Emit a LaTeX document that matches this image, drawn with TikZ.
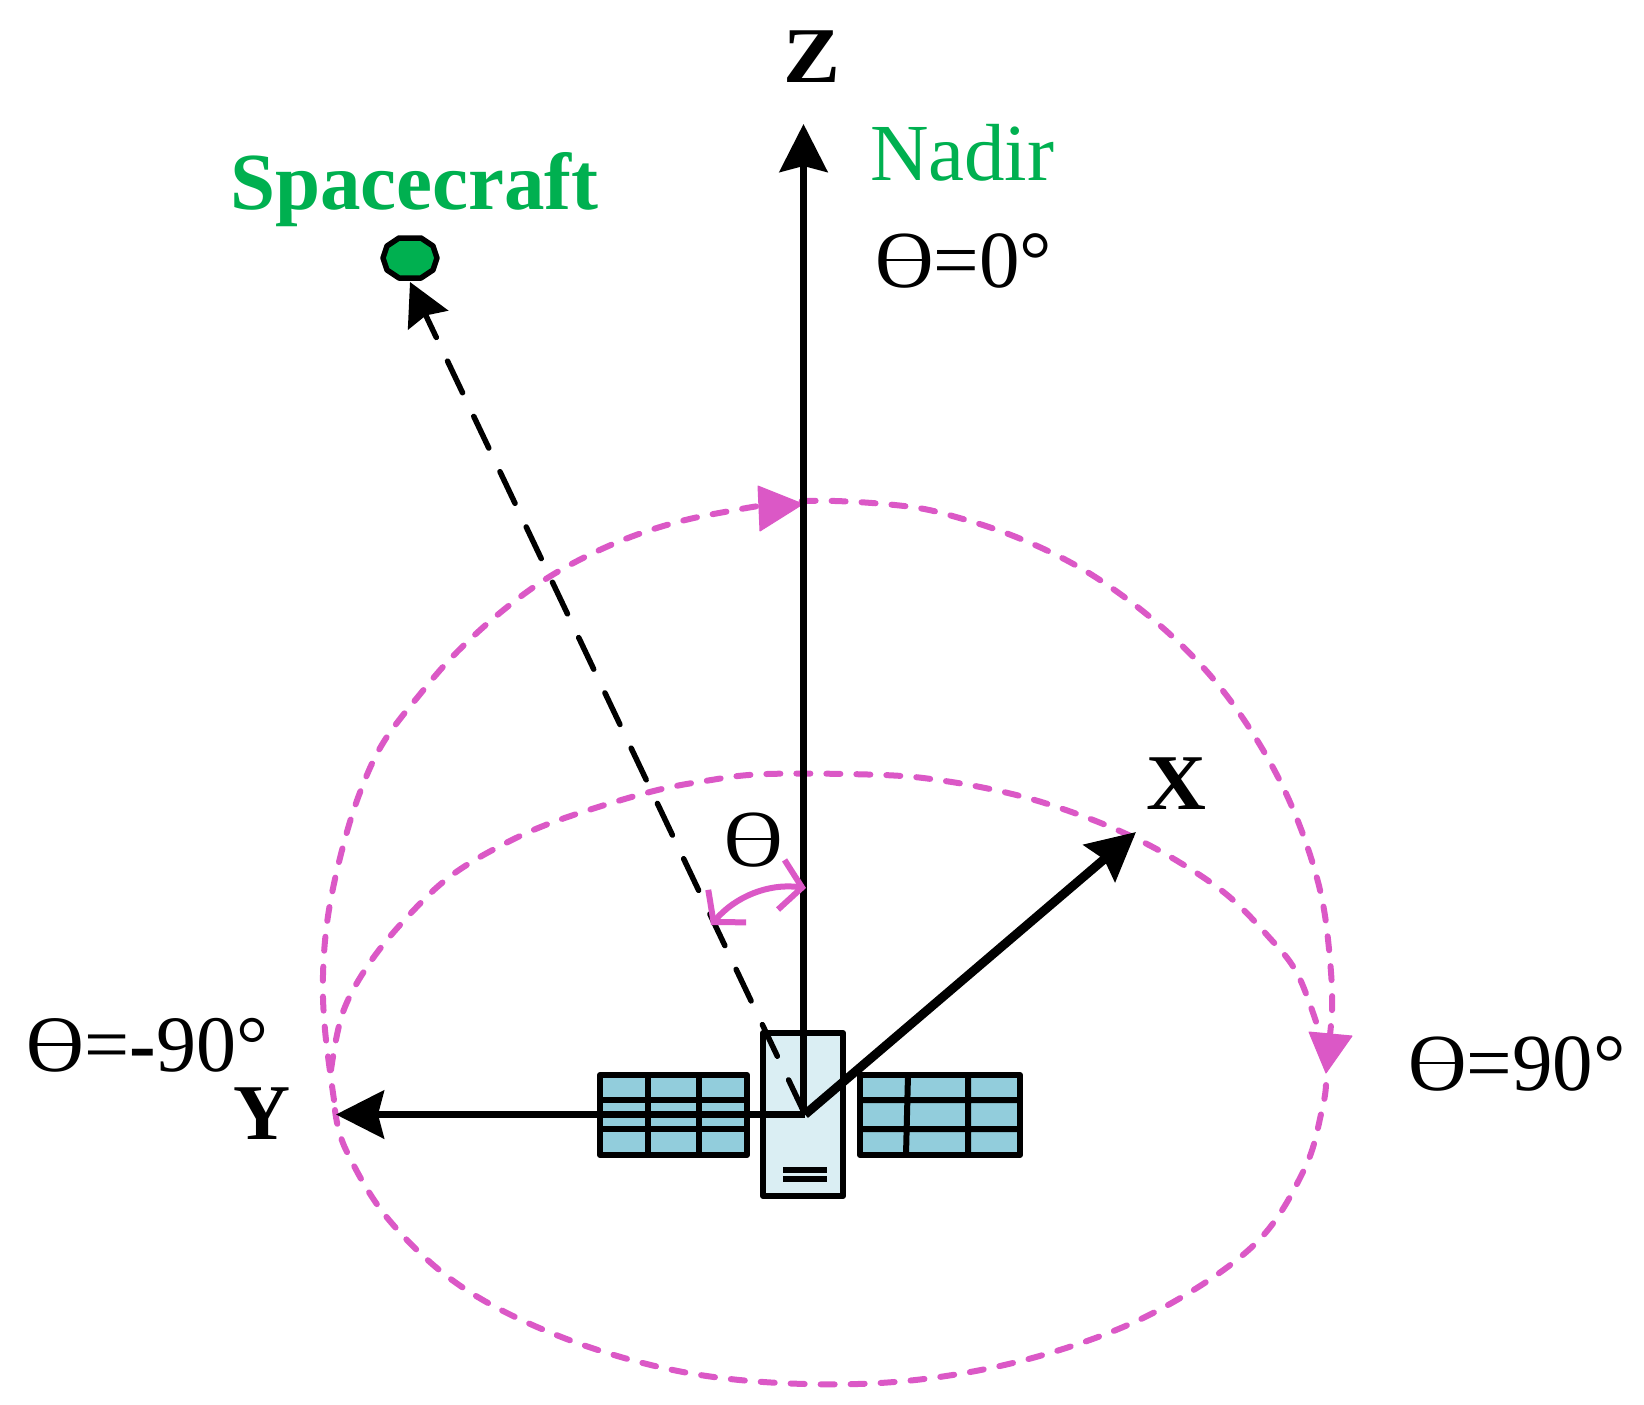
\documentclass[tikz,border=0pt]{standalone}
\usepackage{fontspec}
\setmainfont{Liberation Serif}
\usetikzlibrary{arrows.meta,shapes.geometric}
\definecolor{arcpink}{HTML}{DB58C6}
\definecolor{bodyblue}{HTML}{DAEEF3}
\definecolor{panelblue}{HTML}{92CDDC}
\definecolor{craftgreen}{HTML}{00B050}
\newcommand{\thetaglyph}{Θ\llap{\textcolor{white}{\rule[.19em]{.36em}{.29em}}\hspace{.18em}}\llap{\rule[.315em]{.58em}{.036em}\hspace{.07em}}}
\tikzset{
  lab/.style={inner sep=0pt,outer sep=0pt,anchor=base west,font=\fontsize{81}{90}\selectfont},
  axislab/.style={inner sep=0pt,outer sep=0pt,anchor=base west,font=\fontsize{79}{90}\selectfont\bfseries},
  arcline/.style={draw=arcpink,line width=6pt,line cap=round,dash pattern=on 14pt off 16pt},
  archead/.style={fill=arcpink,draw=arcpink,line width=1pt,line join=round},
  axisline/.style={draw=black,line width=6.5pt,-{Stealth[length=48pt,width=48pt,inset=6pt]}},
  hw/.style={draw=black,line width=6pt,line join=round},
  gridline/.style={draw=black,line width=6pt},
}
\begin{document}
\begin{tikzpicture}[x=1pt,y=-1pt]
\path[use as bounding box] (0,0) rectangle (1644,1405);
\coordinate (o) at (805,1114.5);
\coordinate (zbase) at (803.5,1114.5);
\coordinate (ztip) at (803.5,124);
\coordinate (xtip) at (1136,832);
\coordinate (ytip) at (336,1114.5);
\coordinate (thA) at (711,925);
\coordinate (thB) at (806,888);
% pink arcs
\draw[arcline] plot[smooth,tension=0.6] coordinates {(334,1100) (325,1030) (323,975) (328,916) (341,854) (359,795) (383,743) (421,693) (456,653) (501,612) (549,577) (604,548) (660,527) (719,513) (805,501) (904,506) (963,519) (1021,539) (1077,566) (1127,599) (1174,638) (1215,681) (1250,729) (1281,783) (1305,840) (1322,899) (1330,960) (1332,1010) (1327,1060)};
\draw[arcline] plot[smooth,tension=0.6] coordinates {(331,1070) (343,1012) (371,961) (411,913) (452,875) (504,844) (559,820) (646,793) (705,781) (767,774) (883,775) (945,781) (1008,793) (1063,809) (1122,832) (1174,859) (1226,894) (1267,935) (1298,975) (1322,1040)};
\draw[arcline] plot[smooth,tension=0.6] coordinates {(335,1110) (346,1150) (389,1220) (462,1287) (564,1338) (683,1372) (805,1384) (924,1379) (1043,1355) (1155,1312) (1254,1245) (1304,1170) (1322,1110) (1326,1085)};
\path[archead] (803,504) -- (758,486) -- (760,531) -- cycle;
\path[archead] (1326,1073) -- (1309,1032) -- (1352,1036) -- cycle;
% solar panels
\path[hw,fill=panelblue] (600,1075) rectangle (747,1155);
\path[hw,fill=panelblue] (860,1075) rectangle (1020,1155);
\draw[gridline] (600,1100) -- (747,1100) (600,1129) -- (747,1129) (648,1075) -- (648,1155) (699,1075) -- (699,1155);
\draw[gridline] (860,1100) -- (1020,1100) (860,1129) -- (1020,1129) (908,1075) -- (906,1155) (968,1075) -- (968,1155);
% body
\path[hw,fill=bodyblue] (763,1033) rectangle (843,1196);
\draw[gridline] (783,1169.5) -- (827,1169.5) (783,1179) -- (827,1179);
% axes
\draw[axisline] (zbase) -- (ztip);
\draw[axisline] (o) -- (ytip);
\draw[axisline,line width=9pt] (o) -- (xtip);
% spacecraft
\node[inner sep=0pt,outer sep=0pt,minimum width=52pt,minimum height=48pt] (craft) at (410,258) {};
\draw[shift={(craft.center)},fill=craftgreen,line width=5.5pt,line join=round] (-11,-20) -- (11,-20) -- (23,-12) -- (27,0) -- (23,12) -- (11,20) -- (-11,20) -- (-23,12) -- (-27,0) -- (-23,-12) -- cycle;
\draw[line width=5.5pt,line cap=round,dash pattern=on 35pt off 26.2pt,dash phase=57.9pt,-{Stealth[length=42pt,width=44pt,inset=5pt]}] (o) -- (craft.south);
% theta arc
\draw[draw=arcpink,line width=6pt,line cap=round,{Straight Barb[length=21pt,width=50pt]}-{Straight Barb[length=21pt,width=50pt]}] (thA) .. controls (735,897) and (768,883) .. (thB);
% labels
\node[axislab] (zlab) at (783,83) {\scalebox{1.08}[1]{Z}};
\node[axislab] (xlab) at (1146,809) {\scalebox{1.05}[1]{X}};
\node[axislab] (ylab) at (233,1139) {Y};
\node[lab,text=craftgreen] (nadir) at (870,180) {Nadir};
\node[lab,text=craftgreen,font=\fontsize{81}{90}\selectfont\bfseries] (sc) at (230,209) {Spacecraft};
\node[lab] (th0) at (875,287) {\thetaglyph=0°};
\node[lab,font=\fontsize{80}{90}\selectfont] (thm) at (27,1071) {\thetaglyph=\textbf{-}90°};
\node[lab] (thp) at (1408,1090) {\thetaglyph=90°};
\node[lab] (th) at (724,866) {\thetaglyph};
\end{tikzpicture}
\end{document}
